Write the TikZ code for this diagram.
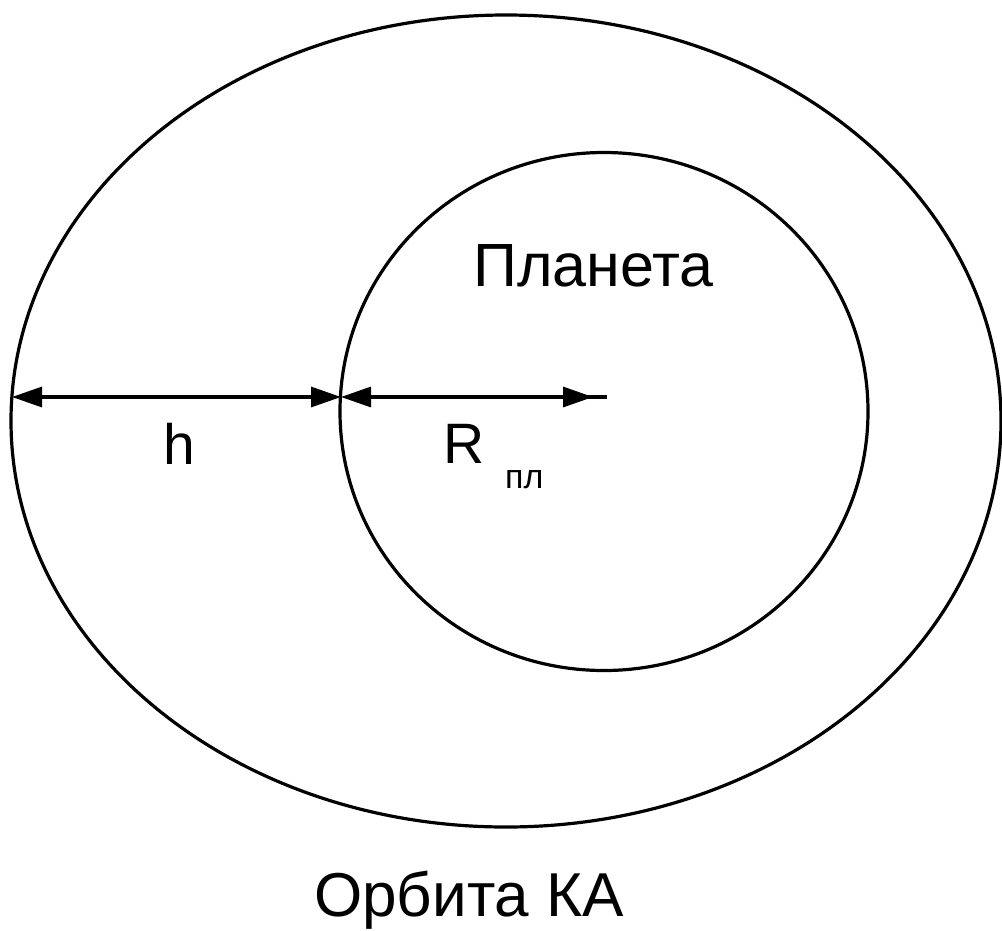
\documentclass[tikz,border=0pt]{standalone}
\usepackage{fontspec}
\setmainfont{Liberation Sans}
\usetikzlibrary{arrows.meta}
\begin{document}
\begin{tikzpicture}[x=1pt,y=-1pt,
  curve/.style={line width=3.2pt},
  dim/.style={line width=3.2pt,{Triangle[length=30pt,width=20pt]}-{Triangle[length=30pt,width=20pt]}},
  lbl/.style={inner sep=0pt,anchor=base west},
  big/.style={lbl,font=\fontsize{57}{60}\selectfont},
  sub/.style={lbl,font=\fontsize{34}{38}\selectfont}]
\useasboundingbox (0,0) rectangle (1002,930);
\draw[curve] (506,421) ellipse [x radius=495, y radius=406];
\draw[curve] (604,411.5) ellipse [x radius=264, y radius=259];
\coordinate (orbL) at (12,397);
\coordinate (planL) at (341,397);
\coordinate (tipR) at (593,397);
\coordinate (tailS) at (570,397);
\coordinate (cen) at (607,397);
\draw[dim] (orbL) -- (planL);
\draw[dim] (planL) -- (tipR);
\draw[line width=3.2pt] (tailS) -- (cen);
\node[lbl,font=\fontsize{61}{64}\selectfont] (planet) at (473,286) {Планета};
\node[big] (h) at (163,464) {h};
\node[big] (R) at (443,463) {R};
\node[sub] (Rsub) at (505,488) {пл};
\node[lbl,font=\fontsize{62}{66}\selectfont] (orbit) at (314,916) {Орбита КА};
\end{tikzpicture}
\end{document}
